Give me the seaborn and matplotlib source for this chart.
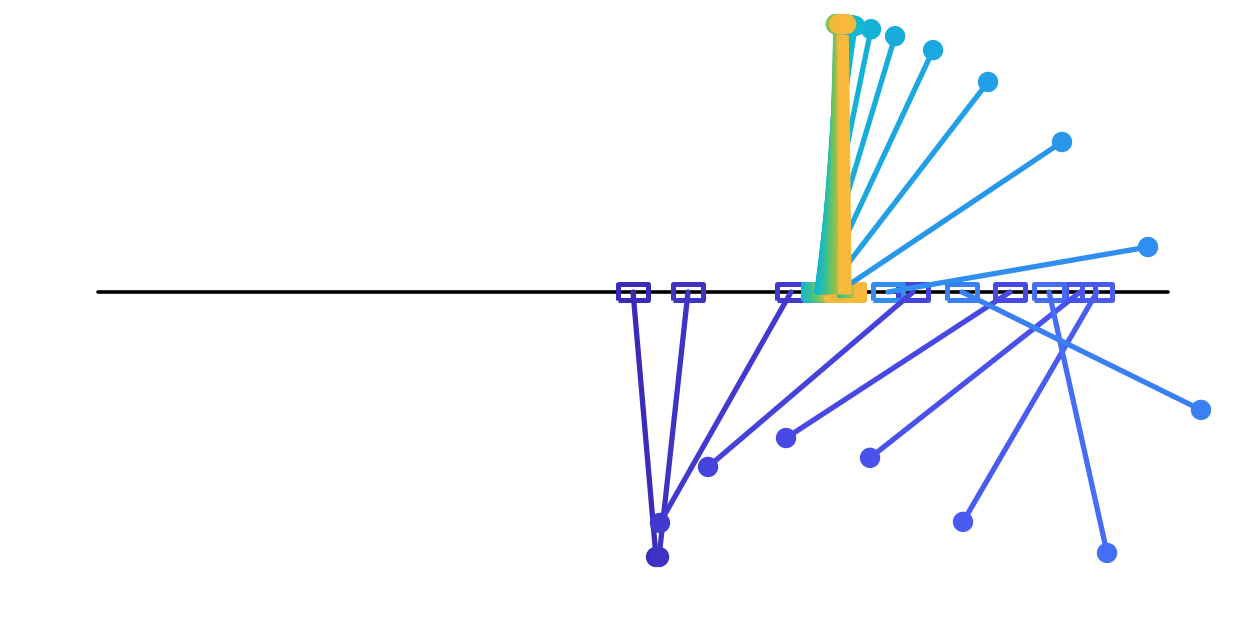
import numpy as np
import pandas as pd
import seaborn as sns
import matplotlib.pyplot as plt
from matplotlib.colors import LinearSegmentedColormap

sns.set_theme(style="white")

# event positions on the baseline, and where each stem ends
base_x = [50.0, 55.14, 64.77, 76.17, 85.23, 91.78, 93.36, 88.88, 80.75, 73.83,
          69.16, 68.04, 67.48, 67.29, 67.20, 67.20,
          67.20, 67.20, 67.29, 67.29, 67.38, 67.48, 67.57, 67.76, 67.94,
          68.13, 68.32, 68.60, 68.88, 69.16, 69.44, 69.72, 70.00, 70.19]
tip_x = [52.15, 52.43, 52.52, 57.01, 64.30, 72.15, 80.84, 94.30, 103.08, 98.13,
         90.09, 83.18, 78.04, 74.49, 72.24, 70.75,
         70.47, 70.28, 70.09, 69.91, 69.72, 69.53, 69.35, 69.25, 69.16,
         69.07, 68.97, 68.97, 69.07, 69.16, 69.35, 69.53, 69.72, 69.91]
tip_y = [-9.89, -9.89, -8.62, -6.53, -5.45, -6.19, -8.58, -9.74, -4.40, 1.68,
         5.60, 7.84, 9.03, 9.55, 9.81, 9.93,
         9.96, 9.96, 9.96, 10.0, 10.0, 10.0, 10.0, 10.0, 10.0,
         10.0, 10.0, 10.0, 10.0, 10.0, 10.0, 10.0, 10.0, 10.0]
baseline = [0, 100]

n = len(base_x)
ev = pd.DataFrame({"event": range(n), "base": base_x, "tx": tip_x, "ty": tip_y})

cmap = LinearSegmentedColormap.from_list("tl", [
    (0.0, "#3b2cb8"), (0.09, "#4642dc"), (0.17, "#4a55f0"), (0.22, "#4472f6"),
    (0.27, "#2f8ef0"), (0.36, "#1ca6e2"), (0.45, "#10b8d0"), (0.64, "#16b9c6"),
    (0.76, "#3dbf90"), (0.86, "#8cc24c"), (0.91, "#f4b93e"), (1.0, "#f8b83a")])
pal = [cmap(i / (n - 1)) for i in range(n)]

fig = plt.figure(figsize=(12.5, 6.25), dpi=100)
ax = fig.add_axes([0, 0, 1, 1])

ax.plot(baseline, [0, 0], color="black", lw=2.6, zorder=1)

rect = [(-1, -0.52), (1, -0.52), (1, 0.52), (-1, 0.52), (-1, -0.52)]
sns.scatterplot(x="base", y=np.zeros(n), data=ev, hue="event", palette=pal,
                marker=rect, s=440, facecolors="none", linewidth=3.6,
                legend=False, ax=ax, zorder=2)
# hollow rectangles: edge takes the event colour
coll = ax.collections[-1]
coll.set_edgecolors(pal)
coll.set_facecolors("none")
coll.set_linewidths(3.6)

stems = pd.DataFrame({
    "event": list(range(n)) * 2,
    "x": base_x + tip_x,
    "y": [0.0] * n + tip_y,
})
sns.lineplot(data=stems, x="x", y="y", hue="event", units="event",
             estimator=None, sort=False, palette=pal, lw=3.8,
             legend=False, ax=ax, zorder=3)

sns.scatterplot(x="tx", y="ty", data=ev, hue="event", palette=pal, s=215,
                linewidth=0, legend=False, ax=ax, zorder=4)

ax.set_xlim(-9.16, 107.66)
ax.set_ylim(-12.43, 10.90)
ax.axis("off")

fig.savefig("out.png", dpi=100)
